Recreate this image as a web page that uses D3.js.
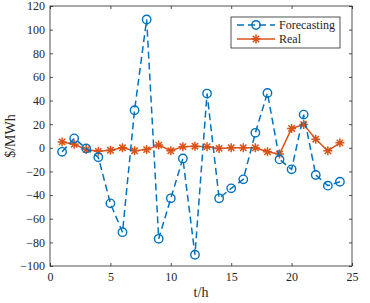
<!DOCTYPE html>
<html>
<head>
<meta charset="utf-8">
<script src="https://cdn.jsdelivr.net/npm/d3@7"></script>
<style>
  body { margin: 0; background: #fff; }
</style>
</head>
<body>
<div id="chart"></div>
<script>
const hours = d3.range(1, 25);
const forecasting = [-3.4, 8, -0.5, -8, -47, -71.4, 31.8, 108.6, -77, -42.7, -9, -90.5,
  45.9, -42.7, -34.3, -26.7, 12.7, 46.4, -9.8, -18.2, 28.1, -23, -32, -28.7];
const real = [5, 3, -1.5, -3, -2, 0, -2.5, -1.5, 2.3, -2.5, 1, 1.4,
  1, -0.5, 0, 0, 0, -3.4, -5.3, 16.4, 19.7, 7.3, -2.5, 4.2];
const xTicks = [0, 5, 10, 15, 20, 25];
const yTicks = [-100, -80, -60, -40, -20, 0, 20, 40, 60, 80, 100, 120];

const width = 370, height = 303;
const margin = {top: 6, right: 18, bottom: 37, left: 50};
const font = "Times New Roman, serif";

const svg = d3.select("#chart").append("svg")
  .attr("width", width)
  .attr("height", height);

const x = d3.scaleLinear().domain([0, 25]).range([margin.left, width - margin.right]);
const y = d3.scaleLinear().domain([-100, 120]).range([height - margin.bottom, margin.top]);

const blue = "#0072BD", orange = "#D95319", axisCol = "#262626";

// frame
svg.append("rect")
  .attr("x", x(0)).attr("y", y(120))
  .attr("width", x(25) - x(0)).attr("height", y(-100) - y(120))
  .attr("fill", "none").attr("stroke", axisCol).attr("stroke-width", 0.8);

function styleAxis(g) {
  g.attr("font-family", font).attr("font-size", 12);
  g.select(".domain").remove();
  g.selectAll(".tick line").attr("stroke", axisCol).attr("stroke-width", 0.8);
  g.selectAll(".tick text").attr("fill", axisCol);
}

svg.append("g").attr("transform", `translate(0,${y(-100)})`)
  .call(d3.axisBottom(x).tickValues(xTicks).tickSizeInner(-3).tickPadding(6).tickFormat(d3.format("d")))
  .call(styleAxis);
svg.append("g").attr("transform", `translate(0,${y(120)})`)
  .call(d3.axisTop(x).tickValues(xTicks).tickSizeInner(-3).tickFormat(""))
  .call(styleAxis);
svg.append("g").attr("transform", `translate(${x(0)},0)`)
  .call(d3.axisLeft(y).tickValues(yTicks).tickSizeInner(-3).tickPadding(5).tickFormat(d3.format("d")))
  .call(styleAxis);
svg.append("g").attr("transform", `translate(${x(25)},0)`)
  .call(d3.axisRight(y).tickValues(yTicks).tickSizeInner(-3).tickFormat(""))
  .call(styleAxis);

// labels
svg.append("text")
  .attr("x", (x(0) + x(25)) / 2).attr("y", 297)
  .attr("text-anchor", "middle").attr("font-size", 14)
  .attr("font-family", font).attr("fill", axisCol)
  .text("t/h");
svg.append("text")
  .attr("transform", `translate(15,${(y(120) + y(-100)) / 2}) rotate(-90)`)
  .attr("text-anchor", "middle").attr("font-size", 14)
  .attr("font-family", font).attr("fill", axisCol)
  .text("$/MWh");

const line = d3.line().x((d, i) => x(hours[i])).y(d => y(d));

// real series
svg.append("path").datum(real)
  .attr("d", line).attr("fill", "none")
  .attr("stroke", orange).attr("stroke-width", 1.5);

function star(g, cx, cy, r) {
  const p = [];
  for (let k = 0; k < 4; k++) {
    const a = k * Math.PI / 4;
    p.push(`M${cx - r * Math.cos(a)},${cy - r * Math.sin(a)}L${cx + r * Math.cos(a)},${cy + r * Math.sin(a)}`);
  }
  g.append("path").attr("d", p.join("")).attr("stroke", orange)
    .attr("stroke-width", 1.5).attr("fill", "none");
}
const starG = svg.append("g");
real.forEach((d, i) => star(starG, x(hours[i]), y(d), 4.5));

// forecasting series
svg.append("path").datum(forecasting)
  .attr("d", line).attr("fill", "none")
  .attr("stroke", blue).attr("stroke-width", 1.5)
  .attr("stroke-dasharray", "7,4");
svg.append("g").selectAll("circle").data(forecasting).join("circle")
  .attr("cx", (d, i) => x(hours[i])).attr("cy", d => y(d))
  .attr("r", 4.2).attr("fill", "none")
  .attr("stroke", blue).attr("stroke-width", 1.4);

// legend
const leg = svg.append("g").attr("font-family", font).attr("font-size", 12);
leg.append("rect").attr("x", 231).attr("y", 17).attr("width", 109).attr("height", 31)
  .attr("fill", "#fff").attr("stroke", axisCol).attr("stroke-width", 0.8);
leg.append("line").attr("x1", 237).attr("x2", 275).attr("y1", 25).attr("y2", 25)
  .attr("stroke", blue).attr("stroke-width", 1.5).attr("stroke-dasharray", "7,4");
leg.append("circle").attr("cx", 256).attr("cy", 25).attr("r", 4.2)
  .attr("fill", "none").attr("stroke", blue).attr("stroke-width", 1.4);
leg.append("line").attr("x1", 237).attr("x2", 275).attr("y1", 39).attr("y2", 39)
  .attr("stroke", orange).attr("stroke-width", 1.5);
star(leg, 256, 39, 4.5);
leg.append("text").attr("x", 279).attr("y", 29).attr("fill", axisCol).text("Forecasting");
leg.append("text").attr("x", 279).attr("y", 43).attr("fill", axisCol).text("Real");
</script>
</body>
</html>
